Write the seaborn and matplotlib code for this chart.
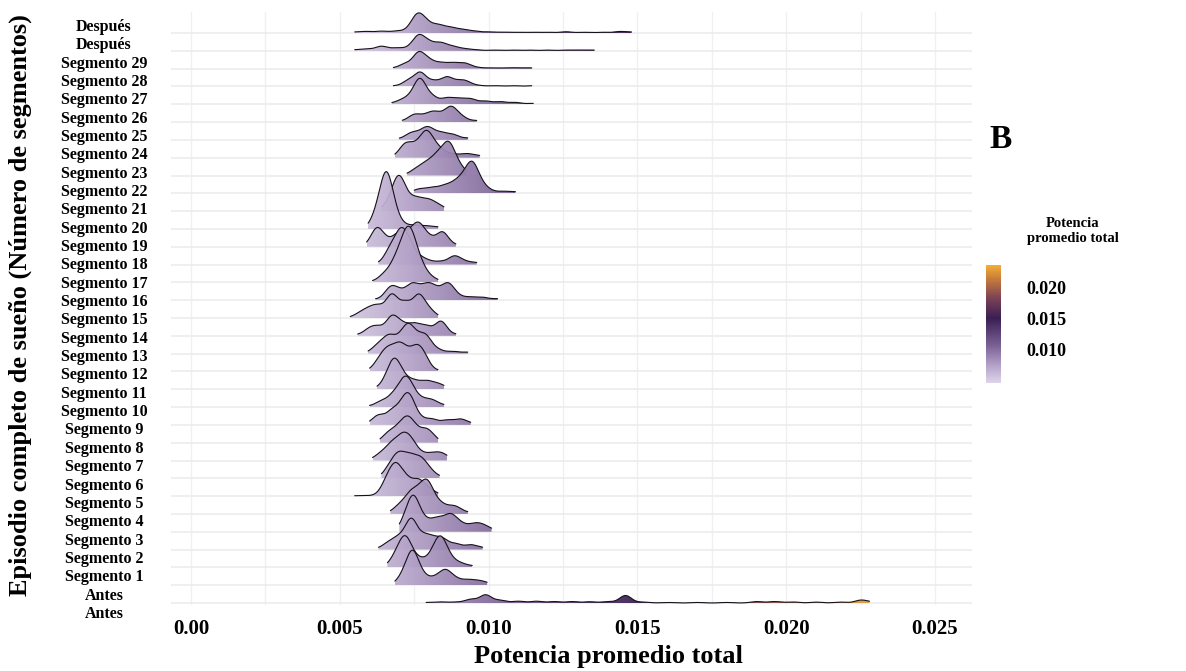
import numpy as np
import matplotlib
matplotlib.use("Agg")
import matplotlib.pyplot as plt
import matplotlib.transforms as mtransforms
from matplotlib.colors import LinearSegmentedColormap, Normalize
from matplotlib.cm import ScalarMappable
from matplotlib.patches import PathPatch
from matplotlib.path import Path
import seaborn as sns
from seaborn._statistics import KDE

# ---------------- data (observed values and their weights per episode row) ----------------
row_labels = ["Después", "Después"] + [f"Segmento {i}" for i in range(29, 0, -1)] + ["Antes", "Antes"]

despues_a_x = [0.0055, 0.0059, 0.0064, 0.0069, 0.0073, 0.0076, 0.0079, 0.0083, 0.0087, 0.0091, 0.0095,
               0.0100, 0.0105, 0.0110, 0.0115, 0.0120, 0.0126, 0.0132, 0.0138, 0.0144, 0.0148]
despues_a_w = [0.05, 0.08, 0.10, 0.10, 0.12, 0.90, 0.50, 0.40, 0.28, 0.18, 0.10,
               0.06, 0.05, 0.04, 0.04, 0.04, 0.07, 0.04, 0.04, 0.08, 0.05]
despues_b_x = [0.0055, 0.0059, 0.0064, 0.0069, 0.0073, 0.00765, 0.0080, 0.0084, 0.0088, 0.0092, 0.0096,
               0.0102, 0.0108, 0.0114, 0.0120, 0.0126, 0.0131, 0.01355]
despues_b_w = [0.05, 0.10, 0.25, 0.15, 0.12, 0.80, 0.40, 0.40, 0.22, 0.10, 0.05,
               0.04, 0.04, 0.04, 0.04, 0.04, 0.04, 0.04]
seg29_x = [0.0068, 0.0072, 0.00765, 0.0080, 0.0084, 0.0088, 0.0092, 0.0096, 0.0101, 0.0106, 0.0110, 0.01145]
seg29_w = [0.03, 0.25, 0.85, 0.40, 0.28, 0.28, 0.28, 0.06, 0.04, 0.04, 0.04, 0.04]
seg28_x = [0.0068, 0.0073, 0.0077, 0.00815, 0.0086, 0.0090, 0.00925, 0.00965, 0.0102, 0.0108, 0.01145]
seg28_w = [0.03, 0.30, 0.75, 0.28, 0.50, 0.22, 0.22, 0.05, 0.04, 0.04, 0.04]
seg27_x = [0.00675, 0.0071, 0.0074, 0.0077, 0.0081, 0.0086, 0.0090, 0.0094, 0.0099, 0.0104, 0.0109, 0.0115]
seg27_w = [0.05, 0.20, 0.30, 1.30, 0.40, 0.33, 0.28, 0.28, 0.17, 0.14, 0.10, 0.05]
seg26_x = [0.0071, 0.0075, 0.00785, 0.00815, 0.00845, 0.00875, 0.0091, 0.0096]
seg26_w = [0.05, 0.38, 0.25, 0.45, 0.25, 0.75, 0.25, 0.08]
seg25_x = [0.0070, 0.0074, 0.00775, 0.0080, 0.0084, 0.0088, 0.0093]
seg25_w = [0.05, 0.35, 0.30, 0.55, 0.35, 0.28, 0.10]
seg24_x = [0.00685, 0.0072, 0.00755, 0.0079, 0.0082, 0.0085, 0.0089, 0.0093, 0.0097]
seg24_w = [0.05, 0.70, 0.55, 1.25, 0.50, 0.25, 0.15, 0.20, 0.10]
seg23_x = [0.00726, 0.0076, 0.00795, 0.0083, 0.00865, 0.00895, 0.00925]
seg23_w = [0.05, 0.35, 0.60, 0.95, 1.55, 0.50, 0.12]
seg22_x = [0.0075, 0.0077, 0.0081, 0.0085, 0.00885, 0.00915, 0.00945, 0.00975, 0.01005, 0.0105, 0.0109]
seg22_w = [0.05, 0.20, 0.28, 0.35, 0.45, 0.65, 1.45, 0.40, 0.12, 0.10, 0.08]
seg21_x = [0.0064, 0.00675, 0.0070, 0.0073, 0.0076, 0.00795, 0.00825, 0.0085]
seg21_w = [0.10, 0.55, 1.60, 0.45, 0.55, 0.50, 0.28, 0.10]
seg20_x = [0.00595, 0.00625, 0.00655, 0.0068, 0.0071, 0.0075, 0.0079, 0.0083]
seg20_w = [0.05, 0.75, 2.60, 0.80, 0.20, 0.18, 0.15, 0.10]
seg19_x = [0.0059, 0.00625, 0.0066, 0.0070, 0.00735, 0.00765, 0.0080, 0.00845, 0.0089]
seg19_w = [0.05, 1.00, 0.30, 0.70, 0.55, 1.10, 0.45, 0.80, 0.10]
seg18_x = [0.0063, 0.0067, 0.00705, 0.00735, 0.0077, 0.0080, 0.0084, 0.00885, 0.0092, 0.0096]
seg18_w = [0.05, 0.80, 1.60, 0.90, 0.30, 0.15, 0.15, 0.45, 0.15, 0.10]
seg17_x = [0.0061, 0.0065, 0.00685, 0.00715, 0.0074, 0.0077, 0.0080, 0.0083]
seg17_w = [0.05, 0.40, 0.90, 1.60, 2.00, 0.80, 0.25, 0.08]
seg16_x = [0.0062, 0.0067, 0.0070, 0.0074, 0.0077, 0.0080, 0.0083, 0.00865, 0.0090, 0.0094, 0.0098, 0.0103]
seg16_w = [0.05, 0.65, 0.40, 0.75, 0.45, 0.70, 0.40, 0.85, 0.18, 0.15, 0.15, 0.08]
seg15_x = [0.00535, 0.0057, 0.0060, 0.0063, 0.00675, 0.0072, 0.00765, 0.0080, 0.0083]
seg15_w = [0.03, 0.25, 0.40, 0.55, 1.25, 0.80, 1.20, 0.40, 0.05]
seg14_x = [0.0056, 0.0060, 0.0063, 0.00675, 0.0071, 0.0075, 0.0079, 0.0084, 0.0089]
seg14_w = [0.05, 0.35, 0.40, 1.00, 0.55, 0.60, 0.50, 0.80, 0.08]
seg13_x = [0.00595, 0.0063, 0.00665, 0.0070, 0.0073, 0.0076, 0.0079, 0.0083, 0.0088, 0.0093]
seg13_w = [0.05, 0.45, 0.85, 0.60, 1.30, 0.60, 0.85, 0.20, 0.12, 0.08]
seg12_x = [0.0060, 0.00635, 0.00665, 0.0070, 0.0073, 0.0076, 0.00785, 0.0083]
seg12_w = [0.05, 0.60, 1.00, 1.20, 0.70, 1.00, 0.60, 0.05]
seg11_x = [0.00625, 0.0066, 0.00685, 0.00715, 0.0075, 0.0079, 0.00825, 0.0085]
seg11_w = [0.05, 0.50, 1.35, 0.50, 0.40, 0.40, 0.25, 0.10]
seg10_x = [0.0060, 0.0064, 0.0068, 0.00715, 0.0074, 0.00775, 0.0081, 0.0085]
seg10_w = [0.05, 0.30, 0.60, 1.20, 0.80, 0.35, 0.35, 0.10]
seg9_x = [0.0060, 0.0063, 0.00675, 0.0071, 0.00735, 0.0077, 0.0081, 0.0086, 0.00905, 0.0094]
seg9_w = [0.05, 0.50, 0.70, 0.80, 1.30, 0.30, 0.30, 0.25, 0.30, 0.08]
seg8_x = [0.00635, 0.00665, 0.0070, 0.0073, 0.0076, 0.00795, 0.0083]
seg8_w = [0.05, 0.50, 0.70, 1.10, 0.50, 0.65, 0.10]
seg7_x = [0.0061, 0.0064, 0.00675, 0.0071, 0.0074, 0.00775, 0.0081, 0.0084, 0.0086]
seg7_w = [0.05, 0.35, 0.80, 1.10, 0.90, 0.30, 0.30, 0.30, 0.10]
seg6_x = [0.0064, 0.0067, 0.0070, 0.00735, 0.0077, 0.0080, 0.00835]
seg6_w = [0.05, 0.60, 1.10, 1.00, 0.90, 0.40, 0.08]
seg5_x = [0.0055, 0.0059, 0.0063, 0.0066, 0.0069, 0.00725, 0.00765, 0.0080, 0.0083]
seg5_w = [0.02, 0.02, 0.05, 0.80, 1.45, 0.80, 0.80, 0.30, 0.08]
seg4_x = [0.0067, 0.0070, 0.00735, 0.00765, 0.00795, 0.0083, 0.0086, 0.0089, 0.0093]
seg4_w = [0.05, 0.40, 0.90, 0.90, 1.50, 0.50, 0.25, 0.35, 0.08]
seg3_x = [0.0070, 0.00725, 0.0075, 0.00785, 0.0082, 0.00845, 0.00875, 0.0091, 0.0095, 0.0098, 0.0101]
seg3_w = [0.05, 0.70, 1.60, 0.50, 0.50, 0.40, 0.80, 0.35, 0.35, 0.30, 0.10]
seg2_x = [0.0063, 0.00665, 0.0070, 0.0074, 0.0078, 0.0081, 0.00845, 0.0089, 0.0094, 0.0098]
seg2_w = [0.05, 0.35, 0.60, 1.60, 0.60, 0.50, 0.55, 0.30, 0.25, 0.10]
seg1_x = [0.0066, 0.0069, 0.0072, 0.0075, 0.0078, 0.00815, 0.0084, 0.0087, 0.00905, 0.00945]
seg1_w = [0.05, 0.60, 1.45, 0.40, 0.30, 0.60, 1.35, 0.40, 0.20, 0.08]
antes_a_x = [0.00685, 0.00715, 0.00745, 0.0078, 0.0082, 0.00855, 0.0089, 0.0093, 0.00965, 0.00995]
antes_a_w = [0.05, 0.50, 1.70, 0.45, 0.35, 0.75, 0.30, 0.25, 0.20, 0.10]
antes_b_x = [0.0079, 0.0084, 0.0089, 0.0094, 0.0099, 0.0104, 0.0110, 0.0116, 0.0122, 0.0128, 0.0134, 0.0140,
             0.0146, 0.0152, 0.0160, 0.0170, 0.0180, 0.0190, 0.0196, 0.0202, 0.0210, 0.0218, 0.0225, 0.0228]
antes_b_w = [0.03, 0.06, 0.05, 0.20, 0.45, 0.15, 0.10, 0.10, 0.08, 0.08, 0.07, 0.08,
             0.42, 0.05, 0.03, 0.03, 0.03, 0.08, 0.08, 0.06, 0.05, 0.05, 0.15, 0.05]

rows = [
    (despues_a_x, despues_a_w), (despues_b_x, despues_b_w),
    (seg29_x, seg29_w), (seg28_x, seg28_w), (seg27_x, seg27_w), (seg26_x, seg26_w),
    (seg25_x, seg25_w), (seg24_x, seg24_w), (seg23_x, seg23_w), (seg22_x, seg22_w),
    (seg21_x, seg21_w), (seg20_x, seg20_w), (seg19_x, seg19_w), (seg18_x, seg18_w),
    (seg17_x, seg17_w), (seg16_x, seg16_w), (seg15_x, seg15_w), (seg14_x, seg14_w),
    (seg13_x, seg13_w), (seg12_x, seg12_w), (seg11_x, seg11_w), (seg10_x, seg10_w),
    (seg9_x, seg9_w), (seg8_x, seg8_w), (seg7_x, seg7_w), (seg6_x, seg6_w),
    (seg5_x, seg5_w), (seg4_x, seg4_w), (seg3_x, seg3_w), (seg2_x, seg2_w),
    (seg1_x, seg1_w), (antes_a_x, antes_a_w), (antes_b_x, antes_b_w),
]

x_ticks = [0.0, 0.005, 0.010, 0.015, 0.020, 0.025]
x_tick_labels = ["0.00", "0.005", "0.010", "0.015", "0.020", "0.025"]
cbar_ticks = [0.010, 0.015, 0.020]
cbar_tick_labels = ["0.010", "0.015", "0.020"]
color_min, color_max = 0.0045, 0.0236

# ---------------- style ----------------
sns.set_theme(style="white")
plt.rcParams["font.family"] = ["Liberation Serif", "DejaVu Serif"]
plt.rcParams["font.weight"] = "bold"
plt.rcParams["text.color"] = "black"
plt.rcParams["xtick.labelcolor"] = "black"
plt.rcParams["ytick.labelcolor"] = "black"

cmap = LinearSegmentedColormap.from_list(
    "potencia",
    [(0.0, "#ded5ea"), (0.15, "#b3a1c7"), (0.32, "#796093"), (0.55, "#3a1e53"),
     (0.72, "#7b4257"), (0.88, "#c57a3c"), (1.0, "#f3ae36")])
norm = Normalize(vmin=color_min, vmax=color_max)

fig = plt.figure(figsize=(11.86, 6.71), dpi=100)
ax = fig.add_axes([171 / 1186, 1 - 605 / 671, 801 / 1186, 593 / 671])

BW = 0.0002
HEIGHT_SCALE = BW * np.sqrt(2 * np.pi)
XMIN, XMAX = -0.000672, 0.026243
n = len(rows)

for k, (xv, wv) in enumerate(rows):
    base = n - 1 - k
    xv = np.asarray(xv, dtype=float)
    wv = np.asarray(wv, dtype=float)
    std = np.sqrt(np.cov(xv, aweights=wv))
    kde = KDE(bw_method=BW / std, gridsize=700, cut=0)
    dens, sup = kde(xv, weights=wv)
    top = base + dens * wv.sum() * HEIGHT_SCALE
    z = 3 + k * 0.1
    grad = np.linspace(sup[0], sup[-1], 400).reshape(1, -1)
    im = ax.imshow(grad, extent=(sup[0], sup[-1], base, top.max()), origin="lower",
                   aspect="auto", cmap=cmap, norm=norm, alpha=0.93, zorder=z,
                   interpolation="bilinear")
    verts = np.column_stack([np.r_[sup[0], sup, sup[-1]], np.r_[base, top, base]])
    patch = PathPatch(Path(verts), facecolor="none", edgecolor="none", transform=ax.transData)
    im.set_clip_path(patch)
    sns.lineplot(x=sup, y=top, ax=ax, color="#15111a", linewidth=0.8, zorder=z + 0.05,
                 sort=False, estimator=None, legend=False)

# grid
ax.hlines(np.arange(n), XMIN, XMAX, color="#ebebeb", linewidth=1.1, zorder=1)
ax.set_xticks(x_ticks)
ax.set_xticklabels(x_tick_labels, fontsize=15, fontweight="bold")
ax.set_xticks(np.arange(0.0025, 0.025, 0.005), minor=True)
ax.xaxis.grid(True, which="both", color="#f0f0f0", linewidth=1.0, zorder=0)
ax.set_axisbelow(True)
ax.tick_params(axis="x", which="both", length=0, pad=10, labelcolor="black")
ax.set_yticks([])
ax.set_xlim(XMIN, XMAX)
ax.set_ylim(-0.112, 33.18)
ax.set_xlabel("")
ax.set_ylabel("")
for s in ax.spines.values():
    s.set_visible(False)

# y labels (centered column)
trans = mtransforms.blended_transform_factory(ax.transAxes, ax.transData)
label_step, label_offset = 1.0298, -0.612
for k, lab in enumerate(row_labels):
    i = n - 1 - k
    ax.text(-67 / 801, i * label_step + label_offset, lab, transform=trans, ha="center",
            va="center", fontsize=11.5, fontweight="bold", color="black", clip_on=False)

fig.text(608 / 1186, 1 - 657 / 671, "Potencia promedio total", ha="center", va="center",
         fontsize=19, fontweight="bold", color="black")
fig.text(20 / 1186, 1 - 305 / 671, "Episodio completo de sueño (Número de segmentos)",
         rotation=90, ha="center", va="center", fontsize=19, fontweight="bold", color="black")

# colorbar
cax = fig.add_axes([986 / 1186, 1 - 383 / 671, 15 / 1186, 118 / 671])
cb = fig.colorbar(ScalarMappable(norm=norm, cmap=cmap), cax=cax)
cb.outline.set_visible(False)
cb.set_ticks(cbar_ticks)
cb.set_ticklabels(cbar_tick_labels)
cax.tick_params(axis="y", which="major", length=3.5, width=0.9, color="white", direction="in",
                left=True, right=True, labelsize=13, pad=18, labelcolor="black")
for t in cax.get_yticklabels():
    t.set_fontweight("bold")
cax.minorticks_off()
fig.text(1073 / 1186, 1 - 231 / 671, "Potencia\npromedio total", ha="center", va="center",
         fontsize=10.5, fontweight="bold", linespacing=1.15, color="black")
fig.text(1001 / 1186, 1 - 140 / 671, "B", ha="center", va="center", fontsize=24,
         fontweight="bold", color="black")

fig.savefig("out.png", dpi=100, facecolor="white")
